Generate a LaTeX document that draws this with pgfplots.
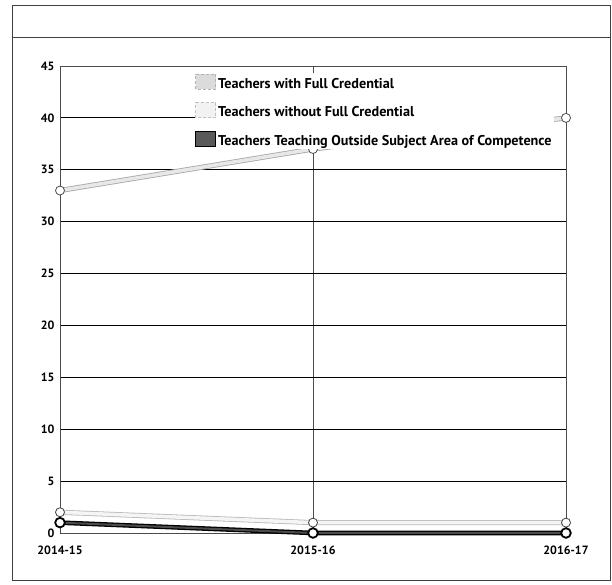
\documentclass[border=0pt]{standalone}
\usepackage{fontspec}
\setmainfont{PT Sans}
\usepackage{pgfplots}
\pgfplotsset{compat=1.18}

% teacher counts per school year
\pgfplotstableread{
x full without outside
0 33 2 1
1 37 1 0
2 40 1 0
}\teachers

\begin{document}
\begin{tikzpicture}
\path[use as bounding box] (-60pt,-52pt) rectangle (552pt,533pt);
% outer panel and header rule
\draw[black!75, line width=0.8pt] (-48pt,-47pt) rectangle (550pt,528pt);
\draw[black!75, line width=0.8pt] (-48pt,496pt) -- (550pt,496pt);
\begin{axis}[
  at={(0pt,0pt)}, anchor=south west,
  scale only axis, width=506pt, height=467pt,
  xmin=0, xmax=2, ymin=0, ymax=45,
  xtick={0,1,2}, xticklabels={2014-15,2015-16,2016-17},
  ytick={0,5,...,45},
  major tick length=0pt,
  tick label style={font=\bfseries\fontsize{12}{14}\selectfont, /pgf/number format/assume math mode=true},
  xticklabel style={yshift=-9pt},
  yticklabel style={xshift=-2pt},
  axis line style={black!70, line width=0.6pt},
  ymajorgrids, xmajorgrids,
  y grid style={black, line width=0.9pt},
  x grid style={black!70, line width=0.5pt},
  clip=false,
  legend style={at={(0.266,0.985)}, anchor=north west, draw=none, fill=white,
    inner sep=0.5pt, font=\bfseries\fontsize{14.2}{16}\selectfont, row sep=10.3pt,
    cells={anchor=west, text depth=0pt}},
  legend cell align=left,
]
% lines
\addplot[forget plot, draw=gray!70, double=gray!18, double distance=3.5pt, line width=0.8pt]
  table[x=x, y=full] {\teachers};
\addplot[forget plot, draw=gray!55, double=gray!8, double distance=3.5pt, line width=0.8pt]
  table[x=x, y=without] {\teachers};
\addplot[forget plot, draw=black, double=black!70, double distance=2pt, line width=1.3pt]
  table[x=x, y=outside] {\teachers};
% point markers, which carry the legend entries
\addplot[only marks, mark=*, mark size=4.5pt, mark options={fill=white, draw=gray!60!black, line width=0.8pt},
  legend image code/.code={\draw[gray!60, fill=gray!28, line width=0.8pt, densely dashed] (-4pt,-5pt) rectangle (16pt,10pt);}]
  table[x=x, y=full] {\teachers};
\addlegendentry{Teachers with Full Credential}
\addplot[only marks, mark=*, mark size=4.5pt, mark options={fill=white, draw=gray!50!black, line width=0.8pt},
  legend image code/.code={\draw[gray!50, fill=gray!10, line width=0.8pt, densely dashed] (-4pt,-5pt) rectangle (16pt,10pt);}]
  table[x=x, y=without] {\teachers};
\addlegendentry{Teachers without Full Credential}
\addplot[only marks, mark=*, mark size=4.8pt, mark options={fill=white, draw=black, line width=1.8pt},
  legend image code/.code={\draw[black, fill=black!65, line width=0.8pt] (-4pt,-5pt) rectangle (16pt,10pt);}]
  table[x=x, y=outside] {\teachers};
\addlegendentry{Teachers Teaching Outside Subject Area of Competence}
\end{axis}
\end{tikzpicture}
\end{document}
